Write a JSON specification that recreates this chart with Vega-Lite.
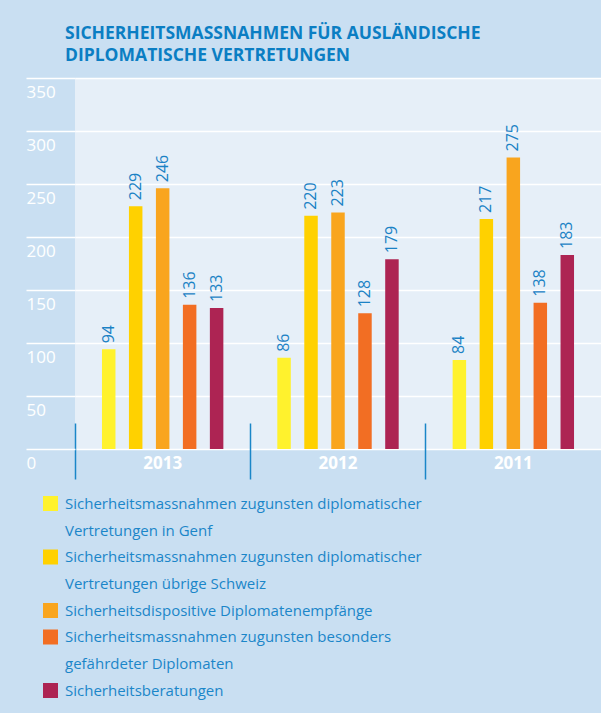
{
  "$schema": "https://vega.github.io/schema/vega-lite/v6.json",
  "autosize": "none",
  "width": 526,
  "height": 371,
  "padding": {"left": 75, "top": 78, "right": 0, "bottom": 264},
  "background": "#c9dff2",
  "config": {
    "view": {"fill": "#e6eff8", "stroke": null},
    "font": "Open Sans"
  },
  "title": {
    "text": ["SICHERHEITSMASSNAHMEN FÜR AUSLÄNDISCHE", "DIPLOMATISCHE VERTRETUNGEN"],
    "anchor": "start",
    "frame": "group",
    "font": "Open Sans",
    "fontSize": 17.5,
    "fontWeight": "bold",
    "color": "#0b7ec3",
    "lineHeight": 22,
    "offset": 13,
    "dx": -10
  },
  "data": {
    "values": [
      {"jahr": "2013", "kategorie": "Sicherheitsmassnahmen zugunsten diplomatischer Vertretungen in Genf", "anzahl": 94},
      {"jahr": "2013", "kategorie": "Sicherheitsmassnahmen zugunsten diplomatischer Vertretungen übrige Schweiz", "anzahl": 229},
      {"jahr": "2013", "kategorie": "Sicherheitsdispositive Diplomatenempfänge", "anzahl": 246},
      {"jahr": "2013", "kategorie": "Sicherheitsmassnahmen zugunsten besonders gefährdeter Diplomaten", "anzahl": 136},
      {"jahr": "2013", "kategorie": "Sicherheitsberatungen", "anzahl": 133},
      {"jahr": "2012", "kategorie": "Sicherheitsmassnahmen zugunsten diplomatischer Vertretungen in Genf", "anzahl": 86},
      {"jahr": "2012", "kategorie": "Sicherheitsmassnahmen zugunsten diplomatischer Vertretungen übrige Schweiz", "anzahl": 220},
      {"jahr": "2012", "kategorie": "Sicherheitsdispositive Diplomatenempfänge", "anzahl": 223},
      {"jahr": "2012", "kategorie": "Sicherheitsmassnahmen zugunsten besonders gefährdeter Diplomaten", "anzahl": 128},
      {"jahr": "2012", "kategorie": "Sicherheitsberatungen", "anzahl": 179},
      {"jahr": "2011", "kategorie": "Sicherheitsmassnahmen zugunsten diplomatischer Vertretungen in Genf", "anzahl": 84},
      {"jahr": "2011", "kategorie": "Sicherheitsmassnahmen zugunsten diplomatischer Vertretungen übrige Schweiz", "anzahl": 217},
      {"jahr": "2011", "kategorie": "Sicherheitsdispositive Diplomatenempfänge", "anzahl": 275},
      {"jahr": "2011", "kategorie": "Sicherheitsmassnahmen zugunsten besonders gefährdeter Diplomaten", "anzahl": 138},
      {"jahr": "2011", "kategorie": "Sicherheitsberatungen", "anzahl": 183}
    ]
  },
  "encoding": {
    "x": {
      "field": "jahr",
      "type": "nominal",
      "sort": ["2013", "2012", "2011"],
      "scale": {"paddingInner": 0, "paddingOuter": 0},
      "axis": {
        "title": null,
        "domain": false,
        "grid": false,
        "ticks": true,
        "bandPosition": 0,
        "tickColor": "#1a86c8",
        "tickWidth": 1.5,
        "tickSize": 56,
        "offset": -26,
        "labelAngle": 0,
        "labelColor": "white",
        "labelFont": "Open Sans",
        "labelFontSize": 17,
        "labelFontWeight": "bold",
        "labelBaseline": "middle",
        "labelPadding": -16
      }
    },
    "xOffset": {
      "field": "kategorie",
      "type": "nominal",
      "scale": {
        "domain": [
          "Sicherheitsmassnahmen zugunsten diplomatischer Vertretungen in Genf",
          "Sicherheitsmassnahmen zugunsten diplomatischer Vertretungen übrige Schweiz",
          "Sicherheitsdispositive Diplomatenempfänge",
          "Sicherheitsmassnahmen zugunsten besonders gefährdeter Diplomaten",
          "Sicherheitsberatungen"
        ],
        "paddingInner": 0.5,
        "paddingOuter": 1
      }
    },
    "y": {
      "field": "anzahl",
      "type": "quantitative",
      "scale": {"domain": [0, 350], "nice": false},
      "axis": {
        "title": null,
        "values": [0, 50, 100, 150, 200, 250, 300, 350],
        "domain": false,
        "grid": true,
        "gridColor": "white",
        "gridOpacity": 1,
        "gridWidth": 1.5,
        "ticks": true,
        "tickColor": "white",
        "tickWidth": 1.5,
        "tickSize": 49,
        "labelColor": "white",
        "labelFont": "Open Sans",
        "labelFontSize": 17,
        "labelAlign": "left",
        "labelBaseline": "middle",
        "labelPadding": 0,
        "labelOffset": 14
      }
    }
  },
  "layer": [
    {
      "mark": {"type": "bar"},
      "encoding": {
        "color": {
          "field": "kategorie",
          "type": "nominal",
          "scale": {
            "domain": [
              "Sicherheitsmassnahmen zugunsten diplomatischer Vertretungen in Genf",
              "Sicherheitsmassnahmen zugunsten diplomatischer Vertretungen übrige Schweiz",
              "Sicherheitsdispositive Diplomatenempfänge",
              "Sicherheitsmassnahmen zugunsten besonders gefährdeter Diplomaten",
              "Sicherheitsberatungen"
            ],
            "range": ["#fff22d", "#ffd100", "#f9a51e", "#f26e23", "#ad2453"]
          },
          "legend": {
            "title": null,
            "orient": "none",
            "legendX": -32,
            "legendY": 418,
            "padding": 0,
            "symbolType": "square",
            "symbolSize": 225,
            "symbolStrokeWidth": 0,
            "symbolOpacity": 1,
            "labelFont": "Open Sans",
            "labelFontSize": 15,
            "labelColor": "#1b86c9",
            "labelLimit": 600,
            "labelOffset": 7,
            "labelBaseline": "top",
            "rowPadding": 10.5,
            "labelExpr": "datum.label == 'Sicherheitsmassnahmen zugunsten diplomatischer Vertretungen in Genf' ? ['Sicherheitsmassnahmen zugunsten diplomatischer', 'Vertretungen in Genf'] : datum.label == 'Sicherheitsmassnahmen zugunsten diplomatischer Vertretungen übrige Schweiz' ? ['Sicherheitsmassnahmen zugunsten diplomatischer', 'Vertretungen übrige Schweiz'] : datum.label == 'Sicherheitsmassnahmen zugunsten besonders gefährdeter Diplomaten' ? ['Sicherheitsmassnahmen zugunsten besonders', 'gefährdeter Diplomaten'] : datum.label",
            "encode": {
              "labels": {
                "update": {
                  "dy": {"value": -7},
                  "lineHeight": {"value": 27}
                }
              }
            }
          }
        }
      }
    },
    {
      "mark": {
        "type": "text",
        "angle": 270,
        "align": "left",
        "baseline": "middle",
        "dx": 6,
        "font": "Open Sans",
        "fontSize": 16,
        "color": "#1b82c5"
      },
      "encoding": {
        "text": {"field": "anzahl", "type": "quantitative"}
      }
    }
  ]
}
